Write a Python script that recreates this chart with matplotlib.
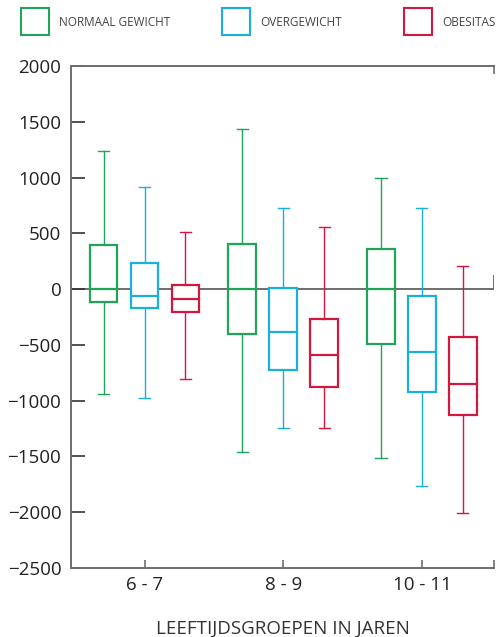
import matplotlib.pyplot as plt
from matplotlib.patches import Rectangle

plt.rcParams['font.family'] = ['Open Sans', 'DejaVu Sans']

groups = ['6 - 7', '8 - 9', '10 - 11']
series = ['NORMAAL GEWICHT', 'OVERGEWICHT', 'OBESITAS']
colors = ['#1ea55a', '#19b0db', '#d3173f']

# per series: one value per age group
whislo = [[-938, -1460, -1510], [-980, -1247, -1762], [-807, -1247, -2010]]
q1 = [[-112, -398, -493], [-170, -729, -921], [-202, -876, -1130]]
med = [[0, 0, 0], [-58, -382, -560], [-89, -589, -852]]
q3 = [[393, 401, 363], [232, 13, -62], [40, -269, -430]]
whishi = [[1237, 1434, 1000], [911, 724, 723], [516, 557, 205]]

offsets = [-0.295, 0.0, 0.295]

fig = plt.figure(figsize=(4.97, 6.37), dpi=100)
ax = fig.add_axes([71 / 497, 1 - 568 / 637, 423 / 497, 502 / 637])

ax.axhline(0, color='#6e6e6e', lw=1.4, zorder=1)

for s in range(3):
    stats = []
    for g in range(3):
        stats.append(dict(whislo=whislo[s][g], q1=q1[s][g], med=med[s][g],
                          q3=q3[s][g], whishi=whishi[s][g], fliers=[]))
    c = colors[s]
    ax.bxp(stats, positions=[g + 1 + offsets[s] for g in range(3)],
           widths=0.2, showfliers=False, patch_artist=True,
           boxprops=dict(facecolor='white', edgecolor=c, linewidth=1.6),
           medianprops=dict(color=c, linewidth=1.6),
           whiskerprops=dict(color=c, linewidth=1.0),
           capprops=dict(color=c, linewidth=1.0),
           capwidths=0.08, manage_ticks=False, zorder=3)

xmin, xmax = 0.47, 3.52
ax.set_xlim(xmin, xmax)
ax.set_ylim(-2500, 2000)
ax.set_yticks(range(-2500, 2001, 500))
ax.set_xticks([1, 2, 3])
ax.set_xticklabels(groups)
ax.set_xticks([xmax], minor=True)
ax.vlines(xmax, 0, 130, color='#6e6e6e', lw=1.4, zorder=1)

for sp in ['left', 'bottom', 'top']:
    ax.spines[sp].set_color('#6e6e6e')
    ax.spines[sp].set_linewidth(1.4)
ax.spines['right'].set_visible(False)

ax.tick_params(axis='y', direction='in', length=10, width=1.2, color='#333333',
               labelsize=13.5, labelcolor='#222222', pad=7)
ax.tick_params(axis='x', which='both', direction='in', length=6, width=1.2,
               color='#6e6e6e', labelsize=13.5, labelcolor='#222222', pad=6,
               top=True, labeltop=False)
ax.tick_params(axis='x', which='major', top=False)
ax.set_xlabel('LEEFTIJDSGROEPEN IN JAREN', fontsize=13.5, color='#333333',
              labelpad=18)

# legend
leg_x = [21, 222, 404]
for s in range(3):
    x0 = leg_x[s] / 497
    fig.add_artist(Rectangle((x0, 1 - 35 / 637), 28 / 497, 27 / 637,
                             transform=fig.transFigure, facecolor='white',
                             edgecolor=colors[s], linewidth=1.5))
    fig.text(x0 + 38 / 497, 1 - 22 / 637, series[s], fontsize=8.5,
             color='#444444', va='center', ha='left')

fig.savefig('out.png', dpi=100)
